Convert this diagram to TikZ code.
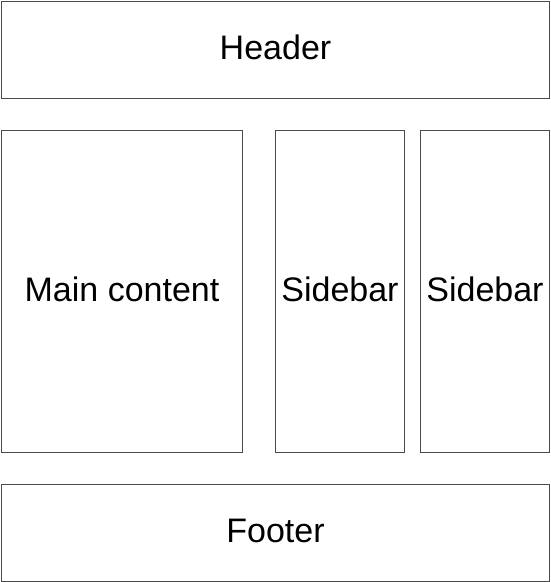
\documentclass[tikz,border=0pt]{standalone}
\usepackage{fontspec}
\setmainfont{Liberation Sans}
\definecolor{edge}{HTML}{4A4A4A}
\tikzset{
  panel/.style={draw=edge, line width=1pt, fill=white, inner sep=0pt, text height=19.5pt, text depth=0pt, font=\fontsize{34}{38}\selectfont, text=black}
}
\begin{document}
\begin{tikzpicture}[x=1pt,y=-1pt]
\useasboundingbox (0,0) rectangle (550,582);
\node[panel, minimum width=548pt, minimum height=97pt, anchor=north west] (header) at (1,0.5) {Header};
\node[panel, minimum width=241pt, minimum height=322pt, anchor=north west] (main) at (1,130) {Main content};
\node[panel, minimum width=129pt, minimum height=322pt, anchor=north west] (side1) at (275,130) {Sidebar};
\node[panel, minimum width=129pt, minimum height=322pt, anchor=north west] (side2) at (420,130) {Sidebar};
\node[panel, minimum width=548pt, minimum height=97pt, anchor=north west] (footer) at (1,484) {Footer};
\end{tikzpicture}
\end{document}
